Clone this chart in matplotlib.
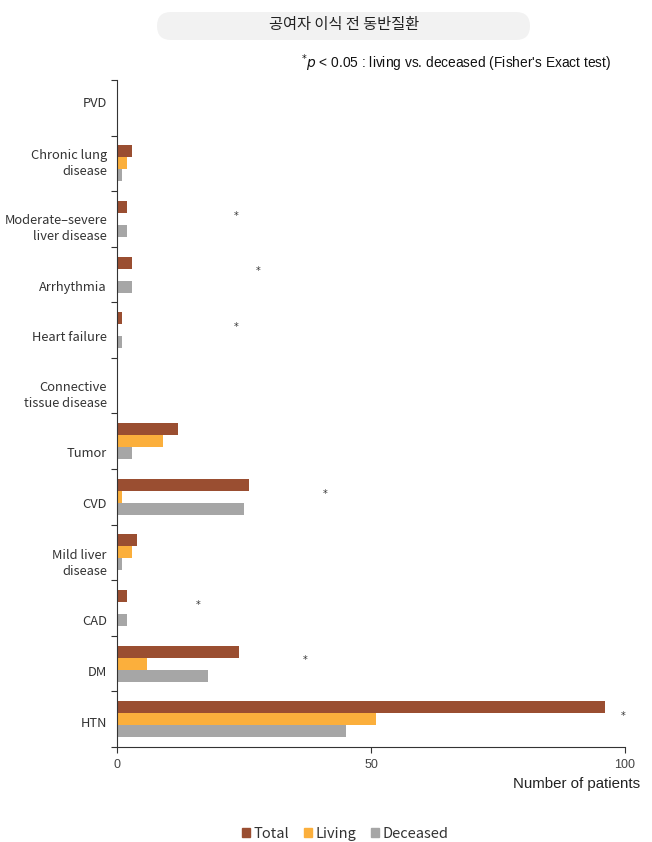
import numpy as np
import matplotlib
matplotlib.use('Agg')
import matplotlib.pyplot as plt
import matplotlib.transforms as mtransforms
from matplotlib.patches import FancyBboxPatch, Patch

plt.rcParams['font.family'] = ['Noto Sans CJK KR', 'DejaVu Sans']

# data, listed bottom to top
categories = ['HTN', 'DM', 'CAD', 'Mild liver\ndisease', 'CVD', 'Tumor',
              'Connective\ntissue disease', 'Heart failure', 'Arrhythmia',
              'Moderate\u2013severe\nliver disease', 'Chronic lung\ndisease', 'PVD']
total = [96, 24, 2, 4, 26, 12, 0, 1, 3, 2, 3, 0]
living = [51, 6, 0, 3, 1, 9, 0, 0, 0, 0, 2, 0]
deceased = [45, 18, 2, 1, 25, 3, 0, 1, 3, 2, 1, 0]
# significant rows and where the asterisk sits (x in patients)
sig_rows = [0, 1, 2, 4, 7, 8, 9]
sig_x = [99.6, 37, 16, 41, 23.4, 27.8, 23.4]
# label nudges (in row units, down is positive) to follow the original layout
label_shift = [0.07, 0.16, 0.25, 0.2, 0.14, 0.22, 0.18, 0.13, 0.23, 0.18, 0.0, -0.07]

c_total = '#9A4E31'
c_living = '#FBAF3C'
c_dec = '#A6A6A6'
txt = '#333333'

fig = plt.figure(figsize=(6.52, 8.42), dpi=100)
ax = fig.add_axes([117/652, 1 - 747/842, (625 - 117)/652, (747 - 80)/842])

y = np.arange(len(categories))
h = 0.216
ax.barh(y + h, total, height=h, color=c_total)
ax.barh(y, living, height=h, color=c_living)
ax.barh(y - h, deceased, height=h, color=c_dec)

for r, xs in zip(sig_rows, sig_x):
    ax.text(xs, r + 0.06, '*', ha='center', va='center', fontsize=7, color=txt,
            family='DejaVu Sans')

ax.set_xlim(0, 100)
ax.set_ylim(-0.5, len(categories) - 0.5)
ax.set_xticks([0, 50, 100])
ax.set_xticklabels(['0', '50', '100'], fontsize=9, color='#444444',
                   family='Liberation Sans')
ax.set_yticks(np.arange(len(categories) + 1) - 0.5)
ax.set_yticklabels([])
ax.tick_params(axis='y', length=4, width=0.8, color='#333333')
ax.tick_params(axis='x', length=4, width=0.8, color='#333333', pad=5)

# category labels
lab_tr = mtransforms.blended_transform_factory(fig.transFigure, ax.transData)
for yi, lab, sh in zip(y, categories, label_shift):
    ax.text(107/652, yi - sh, lab, transform=lab_tr, ha='right', va='center',
            fontsize=9.3, color=txt, linespacing=1.3)

for s in ['top', 'right']:
    ax.spines[s].set_visible(False)
for s in ['left', 'bottom']:
    ax.spines[s].set_color('#333333')
    ax.spines[s].set_linewidth(0.8)

fig.text(640/652, 1 - 784/842, 'Number of patients', ha='right', va='center',
         fontsize=10.8, color='#222222', family='Liberation Sans')

# title pill
pill = FancyBboxPatch((1.57, 8.42 - 0.40), 3.73, 0.28,
                      boxstyle='round,pad=0,rounding_size=0.14',
                      transform=fig.dpi_scale_trans, facecolor='#F2F2F2',
                      edgecolor='none')
fig.patches.append(pill)
fig.text(344/652, 1 - 25/842, '공여자 이식 전 동반질환', ha='center', va='center',
         fontsize=11, color='#222222')

fig.text(611/652, 1 - 63/842,
         r"$^{*}\mathit{p}$ < 0.05 : living vs. deceased (Fisher's Exact test)",
         ha='right', va='center', fontsize=9.9, color='#111111',
         family='Liberation Sans')

handles = [Patch(color=c_total, label='Total'),
           Patch(color=c_living, label='Living'),
           Patch(color=c_dec, label='Deceased')]
fig.legend(handles=handles, loc='center', bbox_to_anchor=(345/652, 1 - 834/842),
           ncol=3, frameon=False, fontsize=10.5, handlelength=0.6,
           handleheight=0.6, handletextpad=0.2, columnspacing=1.0,
           labelcolor='#333333')

fig.savefig('out.png', dpi=100)
